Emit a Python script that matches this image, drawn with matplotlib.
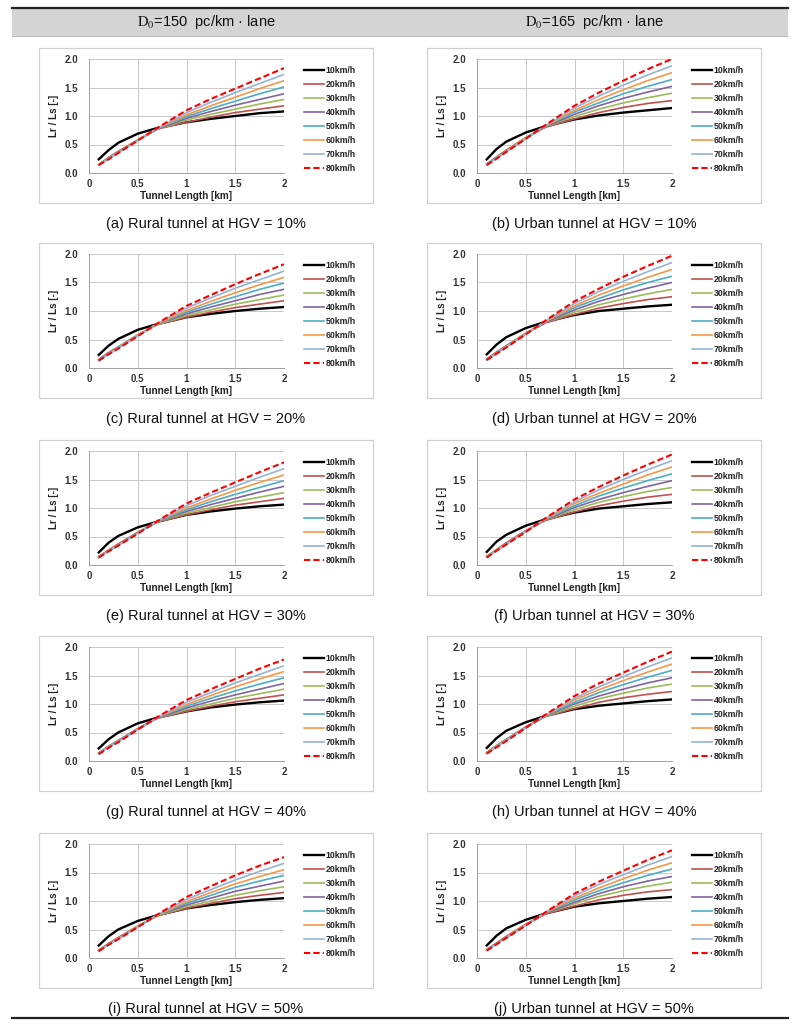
import matplotlib.pyplot as plt
from matplotlib.patches import Rectangle
from matplotlib.lines import Line2D

plt.rcParams['font.family'] = ['Liberation Sans', 'DejaVu Sans']
plt.rcParams['mathtext.fontset'] = 'stix'

# tunnel length [km]
length = [0.1, 0.2, 0.3, 0.5, 0.7, 1.0, 1.25, 1.5, 1.75, 2.0]
speeds = ['10km/h', '20km/h', '30km/h', '40km/h', '50km/h', '60km/h', '70km/h', '80km/h']

# Lr / Ls, one row per speed (10 .. 80 km/h)
rural_10 = [
    [0.24, 0.40, 0.53, 0.69, 0.79, 0.89, 0.95, 1.00, 1.05, 1.08],
    [0.15, 0.27, 0.38, 0.58, 0.77, 0.89, 0.98, 1.06, 1.12, 1.18],
    [0.15, 0.27, 0.37, 0.58, 0.77, 0.93, 1.03, 1.12, 1.21, 1.29],
    [0.14, 0.26, 0.37, 0.57, 0.77, 0.96, 1.08, 1.19, 1.29, 1.39],
    [0.14, 0.26, 0.36, 0.57, 0.78, 0.99, 1.13, 1.26, 1.39, 1.51],
    [0.14, 0.25, 0.36, 0.57, 0.78, 1.02, 1.18, 1.33, 1.48, 1.62],
    [0.14, 0.25, 0.35, 0.57, 0.78, 1.06, 1.24, 1.41, 1.57, 1.73],
    [0.14, 0.24, 0.35, 0.57, 0.79, 1.10, 1.30, 1.48, 1.66, 1.84],
]
urban_10 = [
    [0.24, 0.42, 0.55, 0.71, 0.82, 0.94, 1.01, 1.06, 1.10, 1.14],
    [0.16, 0.28, 0.40, 0.62, 0.80, 0.95, 1.06, 1.15, 1.22, 1.27],
    [0.15, 0.28, 0.39, 0.62, 0.81, 0.99, 1.12, 1.23, 1.32, 1.40],
    [0.15, 0.27, 0.39, 0.61, 0.81, 1.03, 1.18, 1.31, 1.42, 1.52],
    [0.15, 0.27, 0.38, 0.61, 0.82, 1.07, 1.23, 1.39, 1.52, 1.64],
    [0.14, 0.26, 0.38, 0.61, 0.82, 1.10, 1.29, 1.46, 1.62, 1.76],
    [0.14, 0.26, 0.37, 0.60, 0.83, 1.14, 1.35, 1.54, 1.72, 1.88],
    [0.14, 0.25, 0.37, 0.60, 0.84, 1.18, 1.41, 1.62, 1.82, 2.00],
]
rural_20 = [
    [0.23, 0.39, 0.51, 0.67, 0.77, 0.89, 0.95, 1.00, 1.04, 1.07],
    [0.15, 0.27, 0.37, 0.58, 0.76, 0.89, 0.98, 1.06, 1.12, 1.18],
    [0.14, 0.26, 0.37, 0.58, 0.76, 0.92, 1.02, 1.12, 1.20, 1.28],
    [0.14, 0.26, 0.36, 0.57, 0.77, 0.95, 1.07, 1.18, 1.29, 1.38],
    [0.14, 0.25, 0.36, 0.57, 0.77, 0.98, 1.12, 1.25, 1.38, 1.49],
    [0.13, 0.25, 0.35, 0.57, 0.77, 1.01, 1.17, 1.32, 1.46, 1.59],
    [0.13, 0.24, 0.35, 0.56, 0.78, 1.05, 1.23, 1.40, 1.55, 1.70],
    [0.13, 0.24, 0.34, 0.56, 0.78, 1.09, 1.28, 1.47, 1.65, 1.82],
]
urban_20 = [
    [0.24, 0.41, 0.54, 0.70, 0.81, 0.93, 1.00, 1.04, 1.08, 1.11],
    [0.16, 0.28, 0.39, 0.61, 0.79, 0.94, 1.05, 1.13, 1.20, 1.25],
    [0.15, 0.27, 0.39, 0.61, 0.80, 0.98, 1.11, 1.21, 1.30, 1.38],
    [0.15, 0.27, 0.38, 0.60, 0.80, 1.02, 1.17, 1.29, 1.40, 1.50],
    [0.15, 0.26, 0.38, 0.60, 0.81, 1.06, 1.22, 1.37, 1.50, 1.61],
    [0.14, 0.26, 0.37, 0.60, 0.81, 1.09, 1.28, 1.44, 1.59, 1.73],
    [0.14, 0.25, 0.37, 0.59, 0.82, 1.13, 1.34, 1.52, 1.69, 1.85],
    [0.14, 0.25, 0.36, 0.59, 0.83, 1.17, 1.39, 1.60, 1.79, 1.97],
]
rural_30 = [
    [0.22, 0.39, 0.51, 0.66, 0.76, 0.88, 0.94, 0.99, 1.03, 1.06],
    [0.15, 0.26, 0.37, 0.57, 0.75, 0.88, 0.97, 1.05, 1.11, 1.17],
    [0.14, 0.26, 0.36, 0.57, 0.76, 0.91, 1.01, 1.11, 1.19, 1.27],
    [0.14, 0.25, 0.36, 0.57, 0.76, 0.94, 1.06, 1.17, 1.28, 1.38],
    [0.14, 0.25, 0.35, 0.56, 0.76, 0.97, 1.11, 1.24, 1.36, 1.48],
    [0.13, 0.25, 0.35, 0.56, 0.77, 1.00, 1.16, 1.31, 1.45, 1.58],
    [0.13, 0.24, 0.34, 0.56, 0.77, 1.04, 1.22, 1.38, 1.54, 1.69],
    [0.13, 0.24, 0.34, 0.55, 0.77, 1.08, 1.27, 1.45, 1.63, 1.80],
]
urban_30 = [
    [0.23, 0.41, 0.53, 0.69, 0.80, 0.92, 0.99, 1.03, 1.07, 1.10],
    [0.15, 0.27, 0.39, 0.60, 0.78, 0.93, 1.04, 1.12, 1.19, 1.24],
    [0.15, 0.27, 0.38, 0.60, 0.79, 0.97, 1.10, 1.20, 1.29, 1.36],
    [0.15, 0.26, 0.38, 0.60, 0.79, 1.01, 1.15, 1.27, 1.38, 1.48],
    [0.14, 0.26, 0.37, 0.59, 0.80, 1.04, 1.21, 1.35, 1.48, 1.60],
    [0.14, 0.26, 0.37, 0.59, 0.80, 1.08, 1.26, 1.42, 1.58, 1.72],
    [0.14, 0.25, 0.36, 0.59, 0.81, 1.11, 1.32, 1.50, 1.67, 1.83],
    [0.13, 0.25, 0.36, 0.58, 0.82, 1.15, 1.37, 1.57, 1.76, 1.94],
]
rural_40 = [
    [0.22, 0.38, 0.50, 0.66, 0.76, 0.87, 0.94, 0.99, 1.03, 1.06],
    [0.14, 0.26, 0.36, 0.57, 0.75, 0.87, 0.96, 1.04, 1.10, 1.16],
    [0.14, 0.25, 0.36, 0.56, 0.75, 0.90, 1.00, 1.10, 1.18, 1.26],
    [0.14, 0.25, 0.35, 0.56, 0.75, 0.93, 1.05, 1.16, 1.26, 1.36],
    [0.13, 0.25, 0.35, 0.56, 0.76, 0.96, 1.10, 1.23, 1.35, 1.46],
    [0.13, 0.24, 0.34, 0.55, 0.76, 0.99, 1.15, 1.30, 1.44, 1.57],
    [0.13, 0.24, 0.34, 0.55, 0.76, 1.03, 1.20, 1.37, 1.52, 1.67],
    [0.12, 0.23, 0.33, 0.55, 0.77, 1.07, 1.26, 1.44, 1.62, 1.78],
]
urban_40 = [
    [0.23, 0.40, 0.53, 0.68, 0.79, 0.91, 0.97, 1.01, 1.05, 1.08],
    [0.15, 0.27, 0.38, 0.60, 0.78, 0.92, 1.03, 1.11, 1.17, 1.22],
    [0.15, 0.27, 0.38, 0.59, 0.78, 0.96, 1.09, 1.19, 1.28, 1.35],
    [0.14, 0.26, 0.37, 0.59, 0.79, 1.00, 1.14, 1.26, 1.37, 1.46],
    [0.14, 0.26, 0.37, 0.59, 0.79, 1.03, 1.20, 1.34, 1.47, 1.59],
    [0.14, 0.25, 0.36, 0.58, 0.80, 1.07, 1.25, 1.41, 1.56, 1.70],
    [0.13, 0.25, 0.36, 0.58, 0.80, 1.10, 1.30, 1.48, 1.65, 1.81],
    [0.13, 0.24, 0.35, 0.58, 0.81, 1.14, 1.36, 1.55, 1.74, 1.92],
]
rural_50 = [
    [0.22, 0.38, 0.50, 0.65, 0.75, 0.87, 0.93, 0.98, 1.02, 1.05],
    [0.14, 0.25, 0.36, 0.56, 0.74, 0.87, 0.96, 1.04, 1.10, 1.15],
    [0.14, 0.25, 0.35, 0.56, 0.74, 0.90, 1.00, 1.10, 1.18, 1.25],
    [0.13, 0.25, 0.35, 0.55, 0.75, 0.93, 1.05, 1.17, 1.26, 1.35],
    [0.13, 0.24, 0.34, 0.55, 0.75, 0.96, 1.10, 1.24, 1.35, 1.45],
    [0.13, 0.24, 0.34, 0.55, 0.75, 0.99, 1.15, 1.30, 1.43, 1.55],
    [0.12, 0.23, 0.33, 0.54, 0.76, 1.03, 1.20, 1.37, 1.52, 1.66],
    [0.12, 0.23, 0.33, 0.54, 0.76, 1.07, 1.26, 1.45, 1.62, 1.77],
]
urban_50 = [
    [0.22, 0.39, 0.52, 0.67, 0.78, 0.90, 0.96, 1.00, 1.04, 1.07],
    [0.15, 0.26, 0.38, 0.59, 0.77, 0.91, 1.02, 1.10, 1.16, 1.20],
    [0.14, 0.26, 0.37, 0.59, 0.78, 0.95, 1.08, 1.18, 1.26, 1.33],
    [0.14, 0.26, 0.37, 0.58, 0.78, 0.98, 1.13, 1.25, 1.35, 1.43],
    [0.14, 0.25, 0.36, 0.58, 0.79, 1.02, 1.18, 1.32, 1.45, 1.56],
    [0.13, 0.25, 0.36, 0.58, 0.79, 1.05, 1.23, 1.39, 1.54, 1.67],
    [0.13, 0.24, 0.35, 0.57, 0.80, 1.09, 1.29, 1.46, 1.63, 1.78],
    [0.13, 0.24, 0.35, 0.57, 0.80, 1.13, 1.34, 1.53, 1.72, 1.89],
]

panels = [
    (rural_10, '(a) Rural tunnel at HGV = 10%'), (urban_10, '(b) Urban tunnel at HGV = 10%'),
    (rural_20, '(c) Rural tunnel at HGV = 20%'), (urban_20, '(d) Urban tunnel at HGV = 20%'),
    (rural_30, '(e) Rural tunnel at HGV = 30%'), (urban_30, '(f) Urban tunnel at HGV = 30%'),
    (rural_40, '(g) Rural tunnel at HGV = 40%'), (urban_40, '(h) Urban tunnel at HGV = 40%'),
    (rural_50, '(i) Rural tunnel at HGV = 50%'), (urban_50, '(j) Urban tunnel at HGV = 50%'),
]
headers = [r'$\mathrm{D}_0$=150  pc/km · lane', r'$\mathrm{D}_0$=165  pc/km · lane']

colors = ['#000000', '#C0504D', '#9BBB59', '#8064A2', '#4BACC6', '#F79646', '#95B3D7', '#FF0000']
widths = [1.7, 1.2, 1.2, 1.2, 1.2, 1.2, 1.2, 1.5]

W, H = 800, 1026
fig = plt.figure(figsize=(W / 100, H / 100), dpi=100)


def fx(x):
    return x / W


def fy(y):
    return 1 - y / H


# table header and rules
fig.add_artist(Rectangle((fx(12), fy(36)), fx(776), 28 / H, facecolor='#d4d4d4',
                         edgecolor='none', transform=fig.transFigure, zorder=-2))
fig.add_artist(Line2D([fx(12), fx(788)], [fy(7.5), fy(7.5)], color='#222222', lw=1.6))
fig.add_artist(Line2D([fx(12), fx(788)], [fy(36), fy(36)], color='#b0b0b0', lw=0.6))
fig.add_artist(Line2D([fx(12), fx(788)], [fy(1018), fy(1018)], color='#222222', lw=1.6))

box_left = [39, 427]
box_top = [48, 243, 440, 636, 833]

for col in range(2):
    fig.text(fx(box_left[col] + 167), fy(22), headers[col], ha='center', va='center',
             fontsize=10.5, color='#111111')

for i, (data, caption) in enumerate(panels):
    row, col = divmod(i, 2)
    bx, by = box_left[col], box_top[row]
    fig.add_artist(Rectangle((fx(bx), fy(by + 155)), 334 / W, 155 / H, facecolor='none',
                             edgecolor='#d0d0d0', lw=0.9, transform=fig.transFigure, zorder=-1))
    ax = fig.add_axes([fx(bx + 50), fy(by + 125), 195 / W, 114 / H])
    ax.patch.set_alpha(0)
    for k in range(len(speeds)):
        if k == 7:
            ax.plot(length, data[k], color=colors[k], lw=widths[k], ls='--', dashes=(3, 1.5),
                    label=speeds[k])
        else:
            ax.plot(length, data[k], color=colors[k], lw=widths[k], label=speeds[k])
    ax.set_xlim(0, 2)
    ax.set_ylim(0, 2)
    ax.set_xticks([0, 0.5, 1, 1.5, 2])
    ax.set_xticklabels(['0', '0.5', '1', '1.5', '2'])
    ax.set_yticks([0, 0.5, 1.0, 1.5, 2.0])
    ax.set_yticklabels(['0.0', '0.5', '1.0', '1.5', '2.0'])
    ax.grid(True, color='#c8c8c8', lw=0.7)
    ax.set_axisbelow(True)
    for s in ['top', 'right']:
        ax.spines[s].set_visible(False)
    for s in ['left', 'bottom']:
        ax.spines[s].set_color('#a0a0a0')
        ax.spines[s].set_linewidth(0.7)
    ax.tick_params(length=0, labelsize=7, labelcolor='#333333')
    ax.tick_params(axis='x', pad=4)
    ax.tick_params(axis='y', pad=8)
    for t in ax.get_xticklabels() + ax.get_yticklabels():
        t.set_fontweight('bold')
    ax.set_xlabel('Tunnel Length [km]', fontsize=7.2, fontweight='bold', color='#222222', labelpad=2)
    ax.set_ylabel('Lr / Ls [-]', fontsize=7.2, fontweight='bold', color='#222222', labelpad=4)
    leg = ax.legend(loc='upper left', bbox_to_anchor=(1.10, 0.94), frameon=False,
                    prop={'size': 6.3, 'weight': 'bold'}, handlelength=2.3, handletextpad=0.2,
                    labelspacing=0.58, borderpad=0, borderaxespad=0)
    for t in leg.get_texts():
        t.set_color('#222222')
    fig.text(fx(bx + 167), fy(by + 176), caption, ha='center', va='center',
             fontsize=10.5, color='#111111')

fig.savefig('out.png', dpi=100)
